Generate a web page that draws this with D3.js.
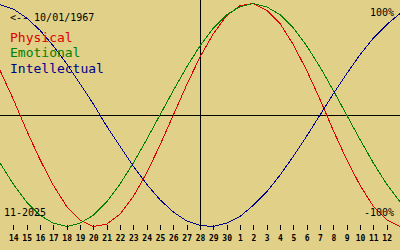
<!DOCTYPE html>
<html>
<head>
<meta charset="utf-8">
<script src="https://cdn.jsdelivr.net/npm/d3@7"></script>
<style>
  html, body { margin: 0; padding: 0; background: #e0d088; }
  svg { display: block; }
  text { font-family: "DejaVu Sans Mono", monospace; }
</style>
</head>
<body>
<script>
// day offsets from the centre day (28 Nov), -15 .. 15
const days = d3.range(-15, 16);
const dayLabels = ['14','15','16','17','18','19','20','21','22','23','24','25','26','27','28',
  '29','30','1','2','3','4','5','6','7','8','9','10','11','12'];

// values in percent, read per day
const physical = [40, 14, -14, -40, -63, -82, -94, -100, -98, -89, -73, -52, -27, 0, 27,
  52, 73, 89, 98, 100, 94, 82, 63, 40, 14, -14, -40, -63, -82, -94, -100];
const emotional = [-43, -62, -78, -90, -97, -100, -97, -90, -78, -62, -43, -22, 0, 22, 43,
  62, 78, 90, 97, 100, 97, 90, 78, 62, 43, 22, 0, -22, -43, -62, -78];
const intellectual = [99, 95, 87, 76, 62, 46, 28, 10, -10, -28, -46, -62, -76, -87, -95,
  -99, -100, -97, -91, -81, -69, -54, -37, -19, 0, 19, 37, 54, 69, 81, 91];

const series = [
  { name: 'Physical', values: physical, color: '#dc0000' },
  { name: 'Emotional', values: emotional, color: '#008000' },
  { name: 'Intellectual', values: intellectual, color: '#00008c' }
];

const width = 400;
const height = 250;

const svg = d3.select('body').append('svg')
  .attr('width', width)
  .attr('height', height);

svg.append('rect')
  .attr('width', width)
  .attr('height', height)
  .attr('fill', '#e0d088');

const x = d3.scaleLinear().domain([-15, 15]).range([0, width]);
const y = d3.scaleLinear().domain([-100, 100]).range([226.5, 3.5]);

// zero line and today line
svg.append('line')
  .attr('x1', 0).attr('x2', width)
  .attr('y1', Math.round(y(0)) + 0.5).attr('y2', Math.round(y(0)) + 0.5)
  .attr('stroke', '#000');

svg.append('line')
  .attr('x1', x(0) + 0.5).attr('x2', x(0) + 0.5)
  .attr('y1', 0).attr('y2', 230)
  .attr('stroke', '#000');

// curves
const line = d3.line()
  .x((d, i) => x(days[i]))
  .y(d => y(d));

svg.selectAll('.curve')
  .data(series)
  .enter().append('path')
  .attr('class', 'curve')
  .attr('d', d => line(d.values))
  .attr('fill', 'none')
  .attr('stroke', d => d.color)
  .attr('stroke-width', 1)
  .attr('shape-rendering', 'crispEdges');

// day axis
const tickDays = d3.range(-14, 15);
const axis = svg.append('g')
  .attr('transform', 'translate(0,225)')
  .call(d3.axisBottom(x)
    .tickValues(tickDays)
    .tickSize(5)
    .tickPadding(5)
    .tickFormat((d, i) => dayLabels[i]));
axis.select('.domain').remove();
axis.selectAll('.tick line').attr('shape-rendering', 'crispEdges');
axis.selectAll('text')
  .attr('font-family', '"Liberation Sans", sans-serif')
  .attr('font-weight', 'bold')
  .attr('font-size', 8)
  .attr('fill', '#000');

// labels
svg.append('text')
  .attr('x', 10).attr('y', 21)
  .attr('font-size', 10)
  .text('<-- 10/01/1967');

svg.selectAll('.legend')
  .data(series)
  .enter().append('text')
  .attr('class', 'legend')
  .attr('x', 10)
  .attr('y', (d, i) => 42 + i * 15.4)
  .attr('font-size', 13)
  .attr('fill', d => d.color)
  .text(d => d.name);

svg.append('text')
  .attr('x', 394).attr('y', 16)
  .attr('text-anchor', 'end')
  .attr('font-size', 10)
  .text('100%');

svg.append('text')
  .attr('x', 394).attr('y', 216)
  .attr('text-anchor', 'end')
  .attr('font-size', 10)
  .text('-100%');

svg.append('text')
  .attr('x', 4).attr('y', 216)
  .attr('font-size', 10)
  .text('11-2025');
</script>
</body>
</html>
